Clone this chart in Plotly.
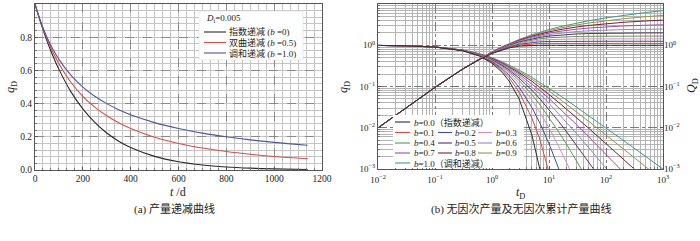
import plotly.graph_objects as go

# ---------------- data: panel (a) ----------------
t_days = [0, 25, 50, 75, 100, 150, 200, 250, 300, 350, 400, 500, 600, 700, 800, 900, 1000, 1140]
q_exp = [1.0, 0.8825, 0.7788, 0.6873, 0.6065, 0.4724, 0.3679, 0.2865, 0.2231, 0.1738, 0.1353,
         0.0821, 0.0498, 0.0302, 0.0183, 0.0111, 0.0067, 0.00335]
q_hyp = [1.0, 0.8858, 0.7901, 0.7091, 0.6400, 0.5289, 0.4444, 0.3787, 0.3265, 0.2844, 0.2500,
         0.1975, 0.1600, 0.1322, 0.1111, 0.0947, 0.0816, 0.0675]
q_har = [1.0, 0.8889, 0.8000, 0.7273, 0.6667, 0.5714, 0.5000, 0.4444, 0.4000, 0.3636, 0.3333,
         0.2857, 0.2500, 0.2222, 0.2000, 0.1818, 0.1667, 0.1493]
left_names = ["指数递减 (<i>b</i> =0)", "双曲递减 (<i>b</i> =0.5)", "调和递减 (<i>b</i> =1.0)"]
left_colors = ["#2a2a2a", "#df4a42", "#50559e"]
x_tick_vals_a = [0, 200, 400, 600, 800, 1000, 1200]
x_tick_text_a = ["0", "200", "400", "600", "800", "1000", "1200"]
y_tick_vals_a = [0.0, 0.2, 0.4, 0.6, 0.8, 1.0]
y_tick_text_a = ["0.0", "0.2", "0.4", "0.6", "0.8", "1.0"]

# ---------------- data: panel (b) ----------------
tD = [0.01, 0.03, 0.1, 0.3, 0.6, 1, 1.5, 2, 3, 5, 7, 10, 15, 20, 30, 50, 100, 200, 500, 1000]
b_labels = ["0.0", "0.1", "0.2", "0.3", "0.4", "0.5", "0.6", "0.7", "0.8", "0.9", "1.0"]
b_colors = ["#2b2b2b", "#e0453d", "#3d4a9e", "#d68cc0", "#5e9a4c", "#5b2d6b",
            "#8f86c9", "#a44aa4", "#7c1f2e", "#8d9b42", "#3f9a8c"]
N = None
qD_b00 = [0.9901, 0.9704, 0.9048, 0.7408, 0.5488, 0.3679, 0.2231, 0.1353, 0.04979, 0.006738, 0.000912, 4.54e-5, N, N, N, N, N, N, N, N]
qD_b01 = [0.9901, 0.9705, 0.9053, 0.7441, 0.5584, 0.3855, 0.2472, 0.1615, 0.07254, 0.01734, 0.00496, 0.000977, 0.0001049, N, N, N, N, N, N, N]
qD_b02 = [0.9901, 0.9705, 0.9057, 0.7473, 0.5674, 0.4019, 0.2693, 0.1859, 0.09537, 0.03125, 0.01257, 0.004115, 0.0009766, 0.00032, N, N, N, N, N, N]
qD_b03 = [0.9901, 0.9706, 0.9062, 0.7503, 0.5760, 0.4171, 0.2898, 0.2087, 0.1177, 0.04717, 0.02302, 0.009842, 0.003405, 0.001524, 0.000464, N, N, N, N, N]
qD_b04 = [0.9901, 0.9706, 0.9066, 0.7533, 0.5840, 0.4312, 0.3088, 0.2301, 0.1393, 0.06415, 0.03553, 0.01789, 0.007714, 0.004115, 0.001641, 0.000495, N, N, N, N]
qD_b05 = [0.9901, 0.9707, 0.9070, 0.7561, 0.5917, 0.4444, 0.3265, 0.2500, 0.1600, 0.08163, 0.04938, 0.02778, 0.01384, 0.008264, 0.003906, 0.001479, 0.000384, N, N, N]
qD_b06 = [0.9901, 0.9707, 0.9075, 0.7589, 0.5990, 0.4569, 0.3431, 0.2687, 0.1798, 0.09921, 0.06407, 0.03904, 0.02154, 0.01391, 0.007389, 0.003269, 0.001058, 0.000338, N, N]
qD_b07 = [0.9901, 0.9708, 0.9079, 0.7616, 0.6060, 0.4686, 0.3586, 0.2863, 0.1986, 0.1166, 0.07921, 0.05127, 0.03053, 0.02089, 0.01208, 0.005978, 0.002267, 0.000851, N, N]
qD_b08 = [0.9901, 0.9708, 0.9083, 0.7643, 0.6126, 0.4797, 0.3732, 0.3029, 0.2166, 0.1338, 0.09454, 0.06415, 0.04051, 0.02897, 0.01789, 0.009637, 0.004115, 0.001743, 0.000557, N]
qD_b09 = [0.9901, 0.9708, 0.9087, 0.7668, 0.6189, 0.4901, 0.3870, 0.3185, 0.2337, 0.1504, 0.1099, 0.07743, 0.05124, 0.03794, 0.02467, 0.01420, 0.006655, 0.003101, 0.001124, 0.000521]
qD_b10 = [0.9901, 0.9709, 0.9091, 0.7692, 0.6250, 0.5000, 0.4000, 0.3333, 0.2500, 0.1667, 0.1250, 0.09091, 0.0625, 0.04762, 0.03226, 0.01961, 0.0099, 0.004975, 0.001996, 0.000999]

QD_b00 = [0.00995, 0.02955, 0.09516, 0.2592, 0.4512, 0.6321, 0.7769, 0.8647, 0.9502, 0.9933, 0.9991, 1.0, 1.0, 1.0, 1.0, 1.0, 1.0, 1.0, 1.0, 1.0]
QD_b01 = [0.00995, 0.02956, 0.09518, 0.2595, 0.4534, 0.6399, 0.7952, 0.8958, 1.0063, 1.0822, 1.1017, 1.1089, 1.1108, 1.1111, 1.1111, 1.1111, 1.1111, 1.1111, 1.1111, 1.1111]
QD_b02 = [0.00995, 0.02956, 0.09520, 0.2598, 0.4556, 0.6472, 0.8123, 0.9246, 1.0593, 1.1719, 1.2123, 1.2346, 1.2451, 1.2480, 1.2495, 1.2499, 1.25, 1.25, 1.25, 1.25]
QD_b03 = [0.00995, 0.02956, 0.09521, 0.2602, 0.4577, 0.6540, 0.8283, 0.9515, 1.1091, 1.2601, 1.3266, 1.3723, 1.4018, 1.4133, 1.4219, 1.4264, 1.4281, 1.4285, 1.4286, 1.4286]
QD_b04 = [0.00995, 0.02956, 0.09522, 0.2605, 0.4597, 0.6606, 0.8431, 0.9765, 1.1559, 1.3459, 1.4416, 1.5176, 1.5767, 1.6049, 1.6311, 1.6493, 1.6603, 1.6644, 1.6661, 1.6665]
QD_b05 = [0.00995, 0.02956, 0.09524, 0.2609, 0.4615, 0.6667, 0.8571, 1.0000, 1.2000, 1.4286, 1.5556, 1.6667, 1.7647, 1.8182, 1.8750, 1.9231, 1.9608, 1.9802, 1.9920, 1.9960]
QD_b06 = [0.00995, 0.02956, 0.09525, 0.2612, 0.4634, 0.6725, 0.8703, 1.0220, 1.2415, 1.5079, 1.6671, 1.8168, 1.9614, 2.0478, 2.1489, 2.2467, 2.3387, 2.3978, 2.4444, 2.4649]
QD_b07 = [0.00995, 0.02956, 0.09527, 0.2615, 0.4651, 0.6781, 0.8827, 1.0428, 1.2808, 1.5838, 1.7755, 1.9661, 2.1630, 2.2890, 2.4470, 2.6157, 2.7970, 2.9336, 3.0629, 3.1323]
QD_b08 = [0.00995, 0.02956, 0.09528, 0.2618, 0.4668, 0.6833, 0.8945, 1.0624, 1.3179, 1.6563, 1.8805, 2.1133, 2.3667, 2.5375, 2.7639, 3.0240, 3.3333, 3.5963, 3.8826, 4.0602]
QD_b09 = [0.00995, 0.02956, 0.09530, 0.2621, 0.4684, 0.6883, 0.9057, 1.0810, 1.3530, 1.7256, 1.9819, 2.2574, 2.5705, 2.7903, 3.0943, 3.4648, 3.9419, 4.3878, 4.9288, 5.3042]
QD_b10 = [0.00995, 0.02956, 0.09531, 0.2624, 0.4700, 0.6931, 0.9163, 1.0986, 1.3863, 1.7918, 2.0794, 2.3979, 2.7726, 3.0445, 3.4340, 3.9318, 4.6151, 5.3033, 6.2146, 6.9088]

qD_all = [qD_b00, qD_b01, qD_b02, qD_b03, qD_b04, qD_b05, qD_b06, qD_b07, qD_b08, qD_b09, qD_b10]
QD_all = [QD_b00, QD_b01, QD_b02, QD_b03, QD_b04, QD_b05, QD_b06, QD_b07, QD_b08, QD_b09, QD_b10]

log_tick_vals_x = [0.01, 0.1, 1, 10, 100, 1000]
log_tick_text_x = ["10<sup>−2</sup>", "10<sup>−1</sup>", "10<sup>0</sup>", "10<sup>1</sup>", "10<sup>2</sup>", "10<sup>3</sup>"]
log_tick_vals_y = [0.001, 0.01, 0.1, 1, 10]
log_tick_text_y = ["10<sup>−3</sup>", "10<sup>−2</sup>", "10<sup>−1</sup>", "10<sup>0</sup>", "10<sup>1</sup>"]

# ---------------- figure ----------------
W, H = 700, 241
def X(p):
    return p / W
def Y(p):
    return 1 - p / H

SERIF = "Liberation Serif, Noto Sans CJK SC, serif"
TXT = "#222222"

fig = go.Figure()

for ys, col in zip([q_exp, q_hyp, q_har], left_colors):
    fig.add_trace(go.Scatter(x=t_days, y=ys, mode="lines", line=dict(color=col, width=1.1, shape="spline"),
                             xaxis="x", yaxis="y", showlegend=False))

for i in reversed(range(len(b_labels))):
    fig.add_trace(go.Scatter(x=tD, y=qD_all[i], mode="lines", line=dict(color=b_colors[i], width=1.0),
                             xaxis="x2", yaxis="y2", showlegend=False, connectgaps=False))
    fig.add_trace(go.Scatter(x=tD, y=QD_all[i], mode="lines", line=dict(color=b_colors[i], width=1.0),
                             xaxis="x2", yaxis="y3", showlegend=False))

minor_log_x = [m * 10 ** e for e in range(-2, 3) for m in range(2, 10)]
minor_log_y = [m * 10 ** e for e in range(-3, 1) for m in range(2, 10)]

frame = dict(showline=True, mirror=True, linecolor="#555555", linewidth=1, zeroline=False, automargin=False)
tickfont = dict(family=SERIF, size=9.5, color=TXT)
logtickfont = dict(family=SERIF, size=9, color=TXT)

fig.update_layout(
    width=W, height=H, margin=dict(l=0, r=0, t=0, b=0, autoexpand=False),
    paper_bgcolor="white", plot_bgcolor="white",
    xaxis=dict(domain=[X(35), X(322)], anchor="y", range=[0, 1200.01],
               tickmode="array", tickvals=x_tick_vals_a, ticktext=x_tick_text_a,
               showgrid=True, gridcolor="#8a8a8a", griddash="dash", gridwidth=0.8,
               ticks="inside", ticklen=3, tickcolor="#555",
               minor=dict(tickmode="linear", dtick=200 / 6, tick0=0, showgrid=True, gridcolor="#c4c4c4",
                          gridwidth=0.8, griddash="solid", ticks="inside", ticklen=2, tickcolor="#777"),
               tickfont=tickfont, **frame),
    yaxis=dict(domain=[Y(170), Y(4)], anchor="x", range=[0, 1.0005],
               tickmode="array", tickvals=y_tick_vals_a, ticktext=y_tick_text_a,
               showgrid=True, gridcolor="#8a8a8a", griddash="dash", gridwidth=0.8,
               ticks="inside", ticklen=3, tickcolor="#555",
               minor=dict(tickmode="linear", dtick=0.04, tick0=0, showgrid=True, gridcolor="#c4c4c4",
                          gridwidth=0.8, griddash="solid", ticks="inside", ticklen=2, tickcolor="#777"),
               tickfont=tickfont, **frame),
    xaxis2=dict(domain=[X(378), X(663)], anchor="y2", type="log", range=[-2, 3.0001],
                tickmode="array", tickvals=log_tick_vals_x, ticktext=log_tick_text_x,
                showgrid=True, gridcolor="#7a7a7a", griddash="dashdot", gridwidth=0.8,
                ticks="inside", ticklen=3, tickcolor="#555", ticklabelstandoff=2,
                minor=dict(tickmode="array", tickvals=minor_log_x, showgrid=True, gridcolor="#b4b4b4",
                           gridwidth=0.8, griddash="solid", ticks="inside", ticklen=2, tickcolor="#777"),
                tickfont=logtickfont, **frame),
    yaxis2=dict(domain=[Y(169), Y(4)], anchor="x2", type="log", range=[-3, 1.0001],
                tickmode="array", tickvals=log_tick_vals_y, ticktext=log_tick_text_y,
                showgrid=True, gridcolor="#7a7a7a", griddash="dashdot", gridwidth=0.8,
                ticks="inside", ticklen=3, tickcolor="#555",
                minor=dict(tickmode="array", tickvals=minor_log_y, showgrid=True, gridcolor="#b4b4b4",
                           gridwidth=0.8, griddash="solid", ticks="inside", ticklen=2, tickcolor="#777"),
                tickfont=logtickfont, **frame),
    yaxis3=dict(overlaying="y2", anchor="x2", side="right", type="log", range=[-3, 1.0001],
                tickmode="array", tickvals=log_tick_vals_y, ticktext=log_tick_text_y,
                showgrid=False, ticks="inside", ticklen=3, tickcolor="#555",
                tickfont=logtickfont, zeroline=False, automargin=False),
)

shapes = []
ann = []

def text(x, y, s, size=9, xanchor="left", angle=0, yanchor="middle"):
    ann.append(dict(x=X(x), y=Y(y), xref="paper", yref="paper", text=s, showarrow=False,
                    xanchor=xanchor, yanchor=yanchor, textangle=angle,
                    font=dict(family=SERIF, size=size, color=TXT)))

def seg(x0, x1, y, color):
    shapes.append(dict(type="line", xref="paper", yref="paper", x0=X(x0), x1=X(x1), y0=Y(y), y1=Y(y),
                       line=dict(color=color, width=1.1), layer="above"))

# left legend
shapes.append(dict(type="rect", xref="paper", yref="paper", x0=X(199), x1=X(303), y0=Y(60), y1=Y(11),
                   fillcolor="white", line=dict(color="#dddddd", width=0.6), layer="above"))
text(204, 18.5, "<i>D</i><sub>i</sub>=0.005", size=9)
for k, (nm, col) in enumerate(zip(left_names, left_colors)):
    yy = 32 + k * 10.5
    seg(204, 226, yy, col)
    text(227, yy, nm, size=9)

# right legend
shapes.append(dict(type="rect", xref="paper", yref="paper", x0=X(393), x1=X(524), y0=Y(168), y1=Y(115),
                   fillcolor="white", line=dict(color="white", width=0), layer="above"))
col_line = [(395, 410), (438, 452), (478, 492)]
col_text = [411.5, 453, 493.5]
rows_y = [122, 132.5, 143, 153, 163]
def b_entry(i, r, c, suffix=""):
    seg(col_line[c][0], col_line[c][1], rows_y[r], b_colors[i])
    text(col_text[c], rows_y[r], "<i>b</i>=" + b_labels[i] + suffix, size=9)
b_entry(0, 0, 0, "（指数递减）")
for i in range(1, 10):
    b_entry(i, 1 + (i - 1) // 3, (i - 1) % 3)
b_entry(10, 4, 0, "（调和递减）")

# axis titles
text(11, 87, "<i>q</i><sub>D</sub>", size=12, xanchor="center", angle=-90)
text(178, 192, "<i>t</i> /d", size=12, xanchor="center")
text(344, 87, "<i>q</i><sub>D</sub>", size=12, xanchor="center", angle=-90)
text(692, 86, "<i>Q</i><sub>D</sub>", size=12, xanchor="center", angle=-90)
text(520, 193, "<i>t</i><sub>D</sub>", size=12, xanchor="center")

# captions
text(174, 209, "(a) 产量递减曲线", size=11, xanchor="center")
text(521, 209, "(b) 无因次产量及无因次累计产量曲线", size=11, xanchor="center")

fig.update_layout(shapes=shapes, annotations=ann)
fig.write_html("out.html", config={"displayModeBar": False},
               post_script="document.body.style.margin='0px'; document.body.style.overflow='hidden';")
